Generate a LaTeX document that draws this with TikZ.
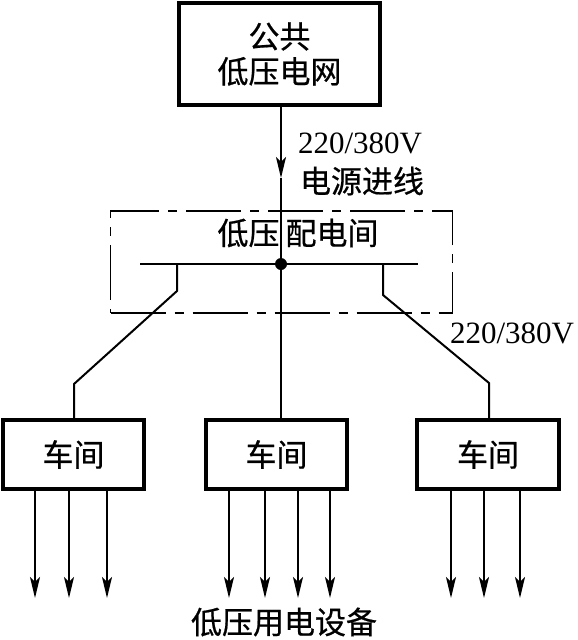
\documentclass[tikz,border=0pt]{standalone}
\usepackage{fontspec}
\setmainfont{Liberation Serif}
\newfontfamily\cjk{Noto Sans CJK SC}[FakeBold=0.6]
\usetikzlibrary{arrows.meta}
\tikzset{
    unitbox/.style={
        draw=black,
        line width=3.4pt,
        inner sep=0pt,
        minimum height=69pt,
        font=\cjk\fontsize{31}{35}\selectfont
    },
    roombox/.style={
        draw=black,
        line width=1.8pt,
        dash pattern=on 55pt off 9pt on 9pt off 9pt,
        inner sep=0pt
    },
    wire/.style={
        line width=2pt
    },
    feedarrow/.style={
        wire,
        -{Stealth[length=21pt, width=10pt, inset=5pt]}
    },
    label/.style={
        inner sep=0pt,
        font=\fontsize{31}{35}\selectfont
    },
    cjklabel/.style={
        inner sep=0pt,
        font=\cjk\fontsize{31}{35}\selectfont
    }
}

\begin{document}
\begin{tikzpicture}[x=1pt, y=-1pt]
            \useasboundingbox (0,0) rectangle (578,640);

            % Boxes
            \node (grid) [
                unitbox,
                minimum width=201pt,
                minimum height=102pt,
                align=center,
            ] at (279.5,54) {公共\\低压电网};
            \node (room) [
                roombox,
                minimum width=342pt,
                minimum height=102pt,
            ] at (281.5,262) {};
            \node (ws1) [
                unitbox,
                minimum width=141pt,
            ] at (73.5,454.5) {车间};
            \node (ws2) [
                unitbox,
                minimum width=141pt,
            ] at (276.5,454.5) {车间};
            \node (ws3) [
                unitbox,
                minimum width=142pt,
            ] at (488,454.5) {车间};

            % Labels
            \node (roomText) [cjklabel] at (298,233) {低压\hspace{6pt}配电间};
            \node (voltIn) [label] at (360,143) {220/380V};
            \node (feedText) [cjklabel] at (362,181) {电源进线};
            \node (voltOut) [label] at (512,333) {220/380V};
            \node (loadText) [cjklabel] at (284,622) {低压用电设备};

            % Bus bar
            \coordinate (busL) at (140,264);
            \coordinate (busR) at (418,264);
            \coordinate (busC) at (281,264);
            \coordinate (feed) at (281,178);
            \draw [wire] (busL) -- (busR);
            \fill (busC) circle (6pt);

            % Incoming line
            \draw [feedarrow] (281,0 |- grid.south) -- (feed);
            \draw [wire] (feed) -- (feed |- ws2.north);

            % Branches
            \draw [wire] (177,0 |- busL) -- (177,291) -- (74,384) -- (74,0 |- ws1.north);
            \draw [wire] (383,0 |- busR) -- (383,295) -- (489,383) -- (489,0 |- ws3.north);

            % Loads
            \foreach \x in {35,69,107}
                \draw [feedarrow] (\x,0 |- ws1.south) -- (\x,598);
            \foreach \x in {229,265,298,330}
                \draw [feedarrow] (\x,0 |- ws2.south) -- (\x,598);
            \foreach \x in {451,484,520}
                \draw [feedarrow] (\x,0 |- ws3.south) -- (\x,598);
        \end{tikzpicture}
\end{document}
